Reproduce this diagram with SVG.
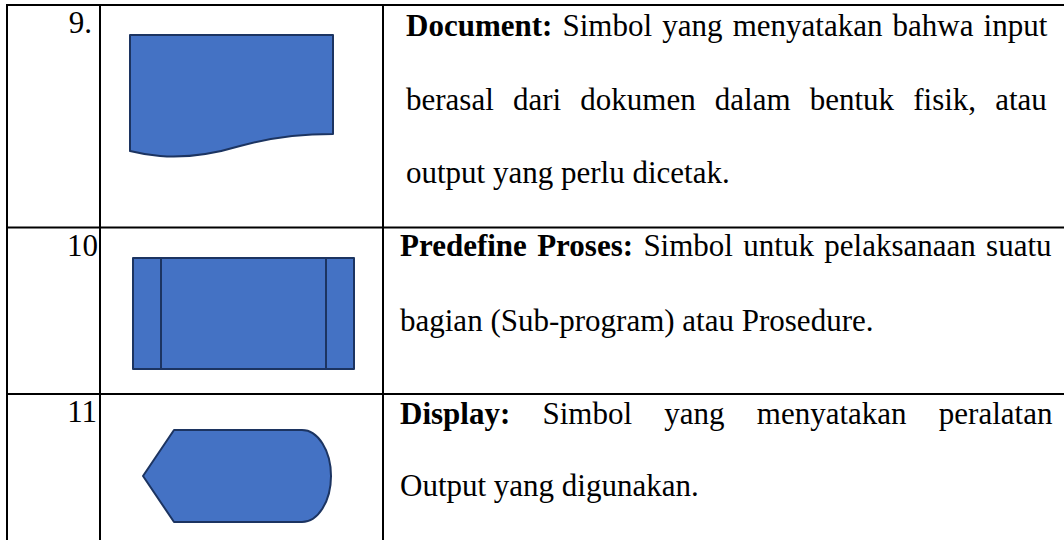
<svg xmlns="http://www.w3.org/2000/svg" width="1064" height="540" viewBox="0 0 1064 540">
  <style>
    .grid { stroke: #000; stroke-width: 2; fill: none; }
    .shape { fill: #4472C4; stroke: #1C3461; stroke-width: 2; stroke-linejoin: round; }
    .t { font-family: "Liberation Serif", "Times New Roman", serif; font-size: 31px; fill: #000; }
    .b { font-weight: bold; }
    .num { font-family: "Liberation Serif", "Times New Roman", serif; font-size: 31px; fill: #000; text-anchor: end; }
  </style>
  <rect x="0" y="0" width="1064" height="540" fill="#fff"/>
  <g id="grid" class="grid">
    <line x1="7" y1="5" x2="1064" y2="5"/>
    <line x1="7" y1="227.5" x2="1064" y2="227.5"/>
    <line x1="7" y1="394" x2="1064" y2="394"/>
    <line x1="7" y1="4" x2="7" y2="540"/>
    <line x1="100" y1="4" x2="100" y2="540"/>
    <line x1="383" y1="4" x2="383" y2="540"/>
  </g>
  <g id="row-9">
    <text class="num" x="92" y="33">9.</text>
    <path id="document" class="shape" d="M130,35 H333 V134 C 300,134 272,137 240,146 C 210,155 185,158 160,156 C 148,155 138,153 130,151 Z"/>
    <text class="t" x="406" y="36" word-spacing="2.4"><tspan class="b">Document:</tspan> Simbol yang menyatakan bahwa input</text>
    <text class="t" x="406" y="110" word-spacing="11.4">berasal dari dokumen dalam bentuk fisik, atau</text>
    <text class="t" x="406" y="183">output yang perlu dicetak.</text>
  </g>
  <g id="row-10">
    <text class="num" x="98" y="256">10</text>
    <g id="predefined-process">
      <rect class="shape" x="133" y="258" width="221" height="111"/>
      <line class="shape" x1="161" y1="258" x2="161" y2="369"/>
      <line class="shape" x1="326" y1="258" x2="326" y2="369"/>
    </g>
    <text class="t" x="400" y="256" word-spacing="2.6"><tspan class="b">Predefine Proses:</tspan> Simbol untuk pelaksanaan suatu</text>
    <text class="t" x="400" y="331">bagian (Sub-program) atau Prosedure.</text>
  </g>
  <g id="row-11">
    <text class="num" x="97" y="422">11</text>
    <path id="display" class="shape" d="M143,476 L174,430 H302 A29,46 0 0 1 302,522 H174 Z"/>
    <text class="t" x="400" y="424" word-spacing="24.5"><tspan class="b">Display:</tspan> Simbol yang menyatakan peralatan</text>
    <text class="t" x="400" y="496">Output yang digunakan.</text>
  </g>
</svg>
